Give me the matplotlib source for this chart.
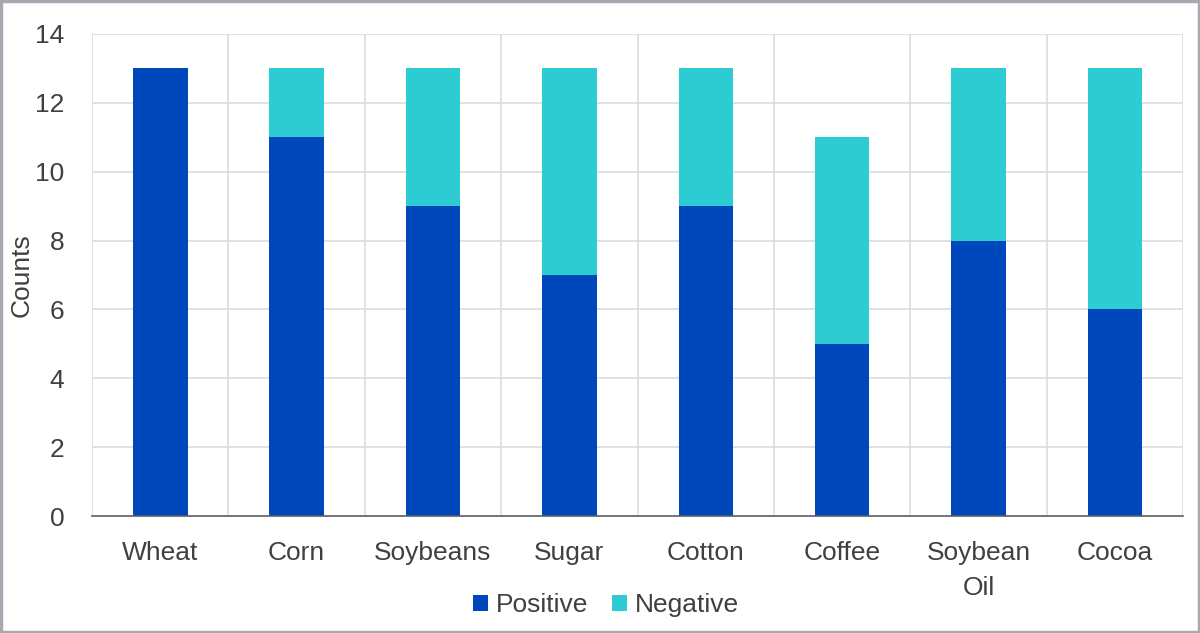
import numpy as np
import matplotlib.pyplot as plt
from matplotlib.patches import Rectangle

plt.rcParams['font.family'] = ['Liberation Sans', 'DejaVu Sans']

categories = ['Wheat', 'Corn', 'Soybeans', 'Sugar', 'Cotton', 'Coffee', 'Soybean\nOil', 'Cocoa']
positive = [13, 11, 9, 7, 9, 5, 8, 6]
negative = [0, 2, 4, 6, 4, 6, 5, 7]

pos_color = '#0047BB'
neg_color = '#2DCCD3'
text_color = '#404040'
grid_color = '#D9DCDE'

fig = plt.figure(figsize=(12, 6.33), dpi=100)
ax = fig.add_axes([0.0767, 0.1848, 0.9093, 0.7615])

x = np.arange(len(categories))
ax.bar(x, positive, width=0.4, color=pos_color, label='Positive', zorder=3)
ax.bar(x, negative, width=0.4, bottom=positive, color=neg_color, label='Negative', zorder=3)

ax.set_xlim(-0.5, len(categories) - 0.5)
ax.set_ylim(0, 14)
ax.set_yticks(np.arange(0, 15, 2))
ax.set_xticks(x)
ax.set_xticklabels(categories, linespacing=1.6, va='top')

# gridlines: horizontal at each tick, vertical between categories
for yv in np.arange(2, 15, 2):
    ax.axhline(yv, color=grid_color, lw=1.2, zorder=1)
for xv in np.arange(-0.5, len(categories), 1):
    ax.axvline(xv, color=grid_color, lw=1.2, zorder=1)

for s in ['top', 'right', 'left']:
    ax.spines[s].set_visible(False)
ax.spines['bottom'].set_color('#5A5F63')
ax.spines['bottom'].set_linewidth(1.2)
ax.spines['bottom'].set_zorder(4)

ax.tick_params(axis='both', length=0, labelsize=19, colors=text_color)
ax.tick_params(axis='x', pad=18)
ax.tick_params(axis='y', pad=20)
fig.text(22 / 1200, 1 - 275 / 633, 'Counts', rotation=90, fontsize=19,
         color=text_color, ha='center', va='center')

leg = fig.legend(loc='center', bbox_to_anchor=(0.505, 0.044), ncol=2, frameon=False,
                 fontsize=19, handlelength=0.55, handleheight=0.55, handletextpad=0.3,
                 columnspacing=0.9)
for t in leg.get_texts():
    t.set_color(text_color)

fig.patches.append(Rectangle((0.001, 0.0015), 0.998, 0.997, transform=fig.transFigure,
                             fill=False, edgecolor='#A6AAB0', lw=2.5))

fig.savefig('out.png', dpi=100)
